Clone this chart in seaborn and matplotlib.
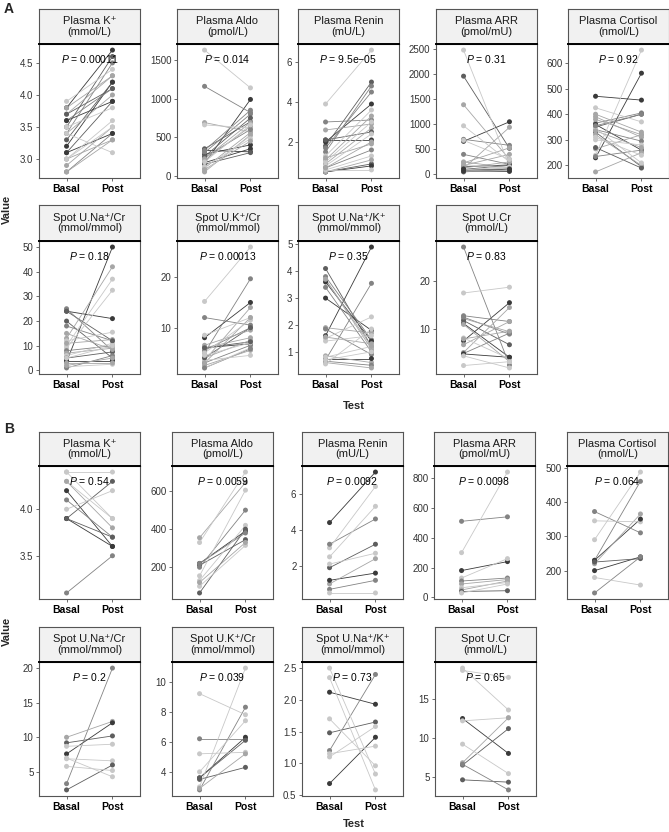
import matplotlib
matplotlib.use("Agg")
import matplotlib.pyplot as plt
import pandas as pd
import seaborn as sns

# ---------------- data ----------------
# tone: 1 = darkest subject colour ... 5 = lightest
A_K_BASAL = [3.8, 3.5, 3.3, 3.4, 3.1, 3.9, 3.7, 3.6, 3.4, 3.5, 3.2, 3.0, 2.9, 3.0, 2.8, 3.1, 3.4, 3.8, 3.6, 3.7, 3.0, 2.8]
A_K_POST = [4.7, 4.6, 4.2, 4.5, 3.9, 4.4, 4.3, 4.1, 4.0, 3.8, 4.2, 3.6, 3.5, 3.3, 3.4, 3.4, 3.1, 4.3, 3.9, 4.1, 3.5, 3.3]
A_K_TONE = [1, 2, 2, 3, 2, 5, 4, 3, 4, 5, 1, 5, 4, 4, 3, 1, 5, 4, 1, 2, 5, 4]

A_ALDO_BASAL = [1630, 1160, 160, 690, 660, 350, 330, 280, 170, 150, 300, 200, 100, 60, 50, 240, 250, 120, 80, 330, 220, 180]
A_ALDO_POST = [1140, 820, 990, 570, 620, 700, 310, 400, 350, 300, 800, 640, 560, 520, 530, 600, 750, 480, 450, 850, 690, 660]
A_ALDO_TONE = [5, 3, 1, 4, 5, 2, 1, 1, 1, 2, 3, 4, 4, 5, 4, 3, 2, 5, 4, 3, 4, 5]

A_RENIN_BASAL = [3.9, 3.0, 2.1, 1.8, 1.7, 2.0, 2.6, 1.5, 1.3, 1.1, 0.9, 2.1, 0.8, 0.7, 0.6, 0.5, 0.5, 0.5, 0.6, 0.7, 1.0, 1.2]
A_RENIN_POST = [6.6, 3.1, 2.1, 5.0, 4.5, 3.9, 2.9, 4.8, 3.6, 3.3, 2.7, 2.5, 2.4, 1.6, 1.3, 0.9, 0.8, 1.1, 0.6, 2.0, 3.0, 1.9]
A_RENIN_TONE = [5, 3, 1, 2, 3, 1, 4, 3, 5, 4, 4, 2, 5, 3, 5, 2, 1, 4, 5, 4, 5, 4]

A_ARR_BASAL = [2480, 1960, 1390, 970, 700, 660, 120, 400, 250, 200, 150, 100, 80, 60, 50, 180, 90, 130, 70, 680, 230, 110]
A_ARR_POST = [170, 520, 300, 250, 580, 1050, 940, 200, 130, 100, 190, 180, 120, 80, 100, 400, 150, 250, 60, 300, 530, 110]
A_ARR_TONE = [5, 2, 4, 5, 3, 1, 4, 3, 4, 5, 1, 2, 3, 4, 2, 4, 5, 4, 1, 5, 4, 1]

A_CORT_BASAL = [240, 230, 470, 365, 350, 360, 425, 400, 390, 340, 330, 320, 300, 265, 270, 235, 175, 345, 380, 355, 310, 335]
A_CORT_POST = [650, 560, 455, 405, 400, 260, 370, 330, 310, 295, 195, 200, 280, 320, 190, 260, 250, 210, 320, 400, 240, 270]
A_CORT_TONE = [5, 1, 1, 3, 2, 1, 5, 4, 4, 3, 2, 4, 5, 4, 2, 3, 4, 5, 4, 3, 5, 4]

A_NACR_BASAL = [3.5, 24, 25, 20, 13, 10, 9, 18, 12, 11, 8, 7, 6, 5, 4, 1.5, 3, 1, 24, 15, 5, 2]
A_NACR_POST = [50, 21, 8, 5, 42, 37, 32.5, 12, 15.5, 12.5, 10, 9, 11, 7.5, 4, 2.5, 3, 6, 12, 8.5, 10, 5]
A_NACR_TONE = [1, 1, 3, 2, 4, 5, 5, 3, 5, 4, 3, 4, 5, 2, 1, 5, 4, 3, 2, 4, 5, 4]

A_KCR_BASAL = [15.2, 12, 8, 6, 3.5, 5, 8.5, 6.5, 5.5, 4, 2, 3, 2.5, 3.5, 6, 5, 4, 4.5, 6, 3, 2]
A_KCR_POST = [26, 10.5, 15, 6.8, 14, 19.7, 12, 9.5, 10, 7.5, 6, 6.5, 5.5, 4.5, 8, 11.5, 10, 7, 7.2, 12, 5.8]
A_KCR_TONE = [5, 3, 1, 1, 4, 3, 5, 4, 3, 4, 5, 3, 4, 5, 4, 5, 2, 5, 2, 4, 3]

A_NAK_BASAL = [1.6, 0.7, 4.1, 3.8, 3.7, 3.6, 3.4, 3.0, 1.9, 1.85, 1.5, 1.4, 0.85, 0.75, 0.8, 0.65, 0.6, 0.55, 1.55, 0.7, 3.7]
A_NAK_POST = [4.9, 3.55, 1.2, 1.45, 1.1, 1.4, 1.0, 1.8, 1.7, 0.9, 2.3, 1.6, 0.6, 0.75, 1.2, 0.5, 0.4, 1.85, 1.3, 1.0, 1.2]
A_NAK_TONE = [1, 3, 2, 3, 4, 1, 3, 1, 4, 3, 5, 5, 4, 1, 5, 3, 4, 5, 4, 5, 4]

A_CR_BASAL = [27, 17.5, 12.8, 12.2, 11.2, 7.6, 5.2, 5.0, 11.8, 11, 8.2, 6.8, 4.9, 4.5, 2.5, 12.5, 8.0]
A_CR_POST = [2.6, 18.7, 11.6, 9.5, 4.2, 15.5, 14.5, 9.2, 6.8, 3.3, 3.9, 11.6, 4.2, 2.0, 3.3, 9.0, 9.6]
A_CR_TONE = [3, 5, 3, 4, 1, 1, 4, 3, 2, 4, 5, 4, 1, 5, 5, 3, 4]

B_K_BASAL = [3.1, 3.9, 4.0, 4.2, 3.9, 4.1, 4.3, 4.4, 4.3, 3.9, 4.4]
B_K_POST = [3.5, 4.3, 4.2, 3.6, 3.6, 3.7, 3.9, 4.4, 3.8, 3.7, 3.9]
B_K_TONE = [3, 2, 5, 1, 1, 3, 5, 5, 4, 2, 5]

B_ALDO_BASAL = [355, 330, 220, 210, 200, 155, 130, 100, 65, 220, 120]
B_ALDO_POST = [645, 700, 390, 345, 500, 605, 420, 315, 400, 380, 330]
B_ALDO_TONE = [4, 5, 1, 2, 3, 5, 5, 5, 2, 3, 4]

B_RENIN_BASAL = [4.4, 3.0, 2.5, 3.2, 1.9, 2.1, 1.0, 1.2, 0.7, 0.5]
B_RENIN_POST = [7.2, 6.4, 5.3, 4.6, 3.2, 2.7, 2.4, 1.6, 1.2, 0.5]
B_RENIN_TONE = [1, 5, 5, 3, 2, 5, 4, 1, 3, 5]

B_ARR_BASAL = [300, 510, 180, 130, 110, 90, 65, 50, 40, 30]
B_ARR_POST = [840, 540, 240, 260, 130, 120, 100, 110, 45, 90]
B_ARR_TONE = [5, 3, 1, 5, 3, 4, 5, 4, 2, 5]

B_CORT_BASAL = [290, 230, 372, 345, 220, 230, 200, 225, 180, 135]
B_CORT_POST = [487, 460, 310, 342, 365, 350, 240, 235, 158, 240]
B_CORT_TONE = [5, 3, 3, 5, 4, 1, 1, 2, 5, 3]

B_NACR_BASAL = [3.3, 10, 7.6, 9.2, 8.7, 6.9, 5.8, 7.0, 2.4]
B_NACR_POST = [20, 12.3, 12.1, 10.2, 9, 6.6, 5.2, 4.3, 6.0]
B_NACR_TONE = [3, 4, 1, 2, 5, 5, 5, 5, 2]

B_KCR_BASAL = [9.2, 6.2, 5.2, 3.0, 2.8, 3.6, 3.5, 4.0, 3.6, 2.9]
B_KCR_POST = [7.8, 6.2, 5.3, 10.9, 8.3, 6.3, 4.3, 7.4, 6.1, 5.2]
B_KCR_TONE = [5, 3, 5, 5, 3, 1, 2, 5, 2, 4]

B_NAK_BASAL = [2.5, 2.35, 2.12, 1.7, 1.48, 1.2, 1.15, 1.1, 0.68]
B_NAK_POST = [0.83, 0.58, 1.93, 0.96, 1.65, 2.4, 1.27, 1.58, 1.41]
B_NAK_TONE = [5, 5, 1, 5, 2, 3, 5, 5, 1]

B_CR_BASAL = [19.0, 18.7, 12.5, 12.2, 9.2, 6.8, 6.5, 6.6, 4.6]
B_CR_POST = [13.6, 17.8, 8.0, 12.6, 5.4, 12.6, 11.2, 3.3, 4.3]
B_CR_TONE = [5, 5, 1, 5, 5, 4, 2, 3, 2]

TITLES = ["Plasma K\u207a\n(mmol/L)", "Plasma Aldo\n(pmol/L)", "Plasma Renin\n(mU/L)",
          "Plasma ARR\n(pmol/mU)", "Plasma Cortisol\n(nmol/L)", "Spot U.Na\u207a/Cr\n(mmol/mmol)",
          "Spot U.K\u207a/Cr\n(mmol/mmol)", "Spot U.Na\u207a/K\u207a\n(mmol/mmol)", "Spot U.Cr\n(mmol/L)"]
P_A = ["0.00011", "0.014", "9.5e\u221205", "0.31", "0.92", "0.18", "0.00013", "0.35", "0.83"]
P_B = ["0.54", "0.0059", "0.0092", "0.0098", "0.064", "0.2", "0.039", "0.73", "0.65"]
TICKS_A = [[3.0, 3.5, 4.0, 4.5], [0, 500, 1000, 1500], [2, 4, 6], [0, 500, 1000, 1500, 2000, 2500],
           [200, 300, 400, 500, 600], [0, 10, 20, 30, 40, 50], [10, 20], [1, 2, 3, 4, 5], [10, 20]]
TICKS_B = [[3.5, 4.0], [200, 400, 600], [2, 4, 6], [0, 200, 400, 600, 800], [200, 300, 400, 500],
           [5, 10, 15, 20], [4, 6, 8, 10], [0.5, 1.0, 1.5, 2.0, 2.5], [5, 10, 15]]
TESTS = ["Basal", "Post"]

DATA_A = [(A_K_BASAL, A_K_POST, A_K_TONE), (A_ALDO_BASAL, A_ALDO_POST, A_ALDO_TONE),
          (A_RENIN_BASAL, A_RENIN_POST, A_RENIN_TONE), (A_ARR_BASAL, A_ARR_POST, A_ARR_TONE),
          (A_CORT_BASAL, A_CORT_POST, A_CORT_TONE), (A_NACR_BASAL, A_NACR_POST, A_NACR_TONE),
          (A_KCR_BASAL, A_KCR_POST, A_KCR_TONE), (A_NAK_BASAL, A_NAK_POST, A_NAK_TONE),
          (A_CR_BASAL, A_CR_POST, A_CR_TONE)]
DATA_B = [(B_K_BASAL, B_K_POST, B_K_TONE), (B_ALDO_BASAL, B_ALDO_POST, B_ALDO_TONE),
          (B_RENIN_BASAL, B_RENIN_POST, B_RENIN_TONE), (B_ARR_BASAL, B_ARR_POST, B_ARR_TONE),
          (B_CORT_BASAL, B_CORT_POST, B_CORT_TONE), (B_NACR_BASAL, B_NACR_POST, B_NACR_TONE),
          (B_KCR_BASAL, B_KCR_POST, B_KCR_TONE), (B_NAK_BASAL, B_NAK_POST, B_NAK_TONE),
          (B_CR_BASAL, B_CR_POST, B_CR_TONE)]

# ---------------- style / layout ----------------
sns.set_theme(style="white")
plt.rcParams["font.family"] = ["Liberation Sans", "DejaVu Sans"]
plt.rcParams["mathtext.fontset"] = "custom"
plt.rcParams["mathtext.it"] = "Liberation Sans:italic"
plt.rcParams["mathtext.rm"] = "Liberation Sans"

TONE_COLORS = {1: "#3a3a3a", 2: "#5e5e5e", 3: "#838383", 4: "#a6a6a6", 5: "#c8c8c8"}
W, H = 669, 832
PANEL_W = 101
# pixel layout: (strip top, panel top, panel bottom), column lefts
ROWS = {"A": [((9, 44, 178), [39, 177, 298, 436, 568]), ((205, 241, 374), [39, 177, 298, 436])],
        "B": [((432, 466, 599), [39, 172, 302, 434, 567]), ((627, 662, 796), [39, 172, 302, 435])]}


def rect(x0, y0, w, h):
    return [x0 / W, 1 - (y0 + h) / H, w / W, h / H]


def draw_facet(fig, left, ys, title, pval, data, ticks):
    s_top, p_top, p_bot = ys
    basal, post, tone = data
    n = len(basal)
    df = pd.DataFrame({
        "subject": list(range(n)) * 2,
        "pos": [0] * n + [1] * n,
        "value": list(basal) + list(post),
        "tone": list(tone) * 2,
    })

    ax = fig.add_axes(rect(left, p_top, PANEL_W, p_bot - p_top))
    sns.lineplot(data=df, x="pos", y="value", units="subject", estimator=None,
                 hue="tone", palette=TONE_COLORS, legend=False, lw=0.6, ax=ax)
    sns.scatterplot(data=df, x="pos", y="value", hue="tone", palette=TONE_COLORS,
                    s=13, linewidth=0, legend=False, zorder=3, ax=ax)

    lo, hi = df["value"].min(), df["value"].max()
    pad = (hi - lo) * 0.05
    ax.set_xticks([0, 1])
    ax.set_xticklabels(TESTS, fontsize=7.5, fontweight="bold", color="black")
    ax.set_yticks(ticks)
    dec = any(float(t) != int(t) for t in ticks)
    ax.set_yticklabels([f"{t:.1f}" if dec else f"{int(t)}" for t in ticks], fontsize=7, color="#333333")
    ax.set_xlim(-0.6, 1.6)
    ax.set_ylim(lo - pad, hi + pad)
    ax.set_xlabel("")
    ax.set_ylabel("")
    ax.tick_params(axis="both", length=2.5, width=0.6, color="#555555", pad=1.5,
                   bottom=True, left=True)
    for sp in ax.spines.values():
        sp.set_color("#555555")
        sp.set_linewidth(0.8)
    ax.text(0.5, 0.885, f"$P$ = {pval}", transform=ax.transAxes, ha="center", va="center",
            fontsize=7.5, color="black")

    sax = fig.add_axes(rect(left, s_top, PANEL_W, p_top - s_top))
    sax.set_facecolor("#f1f1f1")
    sax.set_xticks([])
    sax.set_yticks([])
    for sp in sax.spines.values():
        sp.set_color("#555555")
        sp.set_linewidth(0.8)
    sax.spines["bottom"].set_color("black")
    sax.spines["bottom"].set_linewidth(1.4)
    sax.text(0.5, 0.5, title, ha="center", va="center", fontsize=8, color="#1a1a1a",
             linespacing=1.1, transform=sax.transAxes)


fig = plt.figure(figsize=(W / 100, H / 100), dpi=100)

for panel, pvals, ticks, datas in [("A", P_A, TICKS_A, DATA_A), ("B", P_B, TICKS_B, DATA_B)]:
    k = 0
    for ys, lefts in ROWS[panel]:
        for left in lefts:
            draw_facet(fig, left, ys, TITLES[k], pvals[k], datas[k], ticks[k])
            k += 1

fig.text(4 / W, 1 - 9 / H, "A", fontsize=10, fontweight="bold", va="center")
fig.text(4 / W, 1 - 429 / H, "B", fontsize=10, fontweight="bold", va="center")
fig.text(354 / W, 1 - 406 / H, "Test", fontsize=8, fontweight="bold", ha="center", va="center")
fig.text(354 / W, 1 - 824 / H, "Test", fontsize=8, fontweight="bold", ha="center", va="center")
fig.text(7 / W, 1 - 209 / H, "Value", fontsize=8, fontweight="bold", rotation=90, ha="center", va="center")
fig.text(7 / W, 1 - 631 / H, "Value", fontsize=8, fontweight="bold", rotation=90, ha="center", va="center")

fig.savefig("out.png", dpi=100)
